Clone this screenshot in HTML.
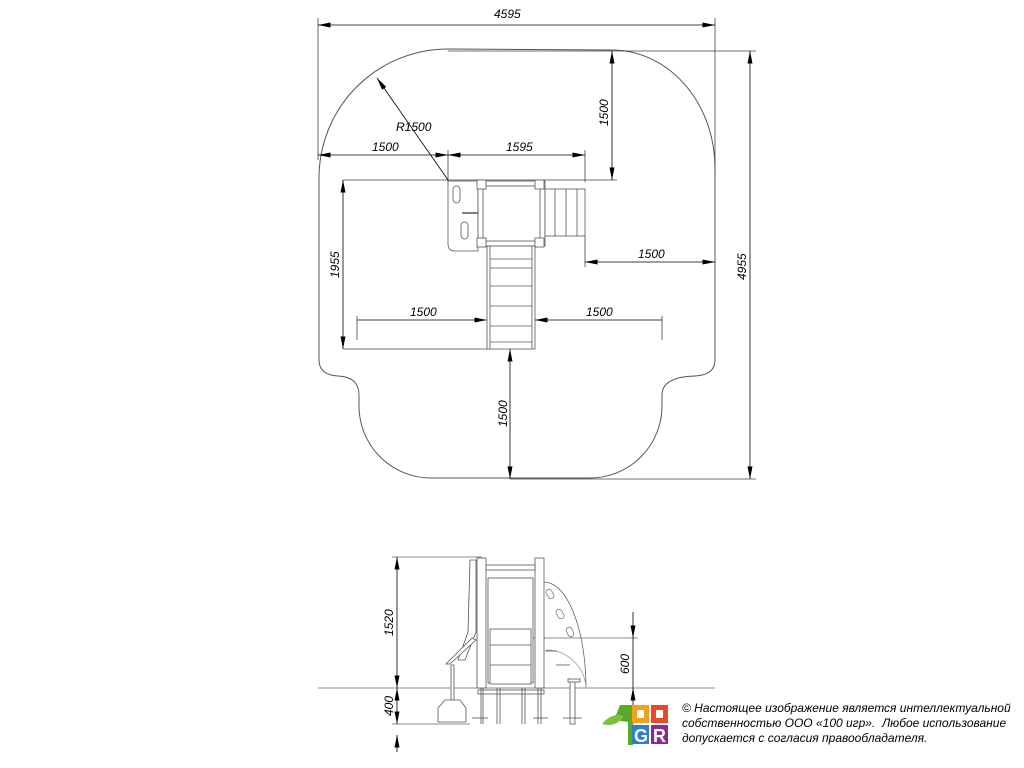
<!DOCTYPE html>
<html><head><meta charset="utf-8"><style>
html,body{margin:0;padding:0;background:#fff;}
svg{display:block}
.t{font-family:"Liberation Sans",sans-serif;font-style:italic;font-size:12px;fill:#000}
.n{font-family:"Liberation Sans","Noto Sans CJK SC",sans-serif;font-style:italic;font-size:12px;fill:#000;white-space:pre}
</style></head><body>
<svg width="1024" height="768" viewBox="0 0 1024 768" xmlns="http://www.w3.org/2000/svg">
<defs>
<marker id="a" viewBox="0 0 10 4" refX="10" refY="2" markerWidth="14" markerHeight="5" orient="auto-start-reverse" markerUnits="userSpaceOnUse"><path d="M0,0 L10,2 L0,4 Z" fill="#000"/></marker>
</defs>
<g fill="none" stroke="#555" stroke-width="1">
<path d="M319 178 A129 129 0 0 1 448 49 L612 50 A103 118 0 0 1 715 168 L715 360 Q715 375 695 376 Q662 377 662 395 L662 406 A72 72 0 0 1 590 478 L431 478 A72 72 0 0 1 359 406 L359 395 Q359 377 338 376 Q319 375 319 360 Z"/>
</g>
<g stroke="#444" stroke-width="0.8" fill="none">
<line x1="318" y1="18" x2="318" y2="160"/>
<line x1="715" y1="18" x2="715" y2="172"/>
<line x1="448" y1="51" x2="756" y2="51"/>
<line x1="510" y1="479" x2="756" y2="479"/>
<line x1="448" y1="150" x2="448" y2="182"/>
<line x1="585" y1="150" x2="585" y2="182"/>
<line x1="343" y1="180" x2="617" y2="180"/>
<line x1="343" y1="349" x2="487" y2="349"/>
<line x1="585" y1="236" x2="585" y2="267"/>
<line x1="662" y1="316" x2="662" y2="340"/>
<line x1="357" y1="316" x2="357" y2="340"/>
</g>
<g stroke="#000" stroke-width="0.8" fill="none" marker-start="url(#a)" marker-end="url(#a)">
<line x1="318" y1="25" x2="715" y2="25"/>
<line x1="750" y1="51" x2="750" y2="479"/>
<line x1="318" y1="155" x2="448" y2="155"/>
<line x1="448" y1="155" x2="585" y2="155"/>
<line x1="612" y1="51" x2="612" y2="180"/>
<line x1="343" y1="180" x2="343" y2="349"/>
<line x1="585" y1="262" x2="715" y2="262"/>
<line x1="510" y1="349" x2="510" y2="479"/>
</g>
<g stroke="#000" stroke-width="0.8" fill="none">
<line x1="357" y1="320" x2="487" y2="320" marker-end="url(#a)"/>
<line x1="662" y1="320" x2="535" y2="320" marker-end="url(#a)"/>
<line x1="448" y1="180" x2="377" y2="78" marker-end="url(#a)"/>
</g>
<text class="t" x="494" y="18">4595</text>
<text class="t" x="396" y="131">R1500</text>
<text class="t" x="372" y="151">1500</text>
<text class="t" x="506" y="151">1595</text>
<text class="t" x="638" y="258">1500</text>
<text class="t" x="410" y="316">1500</text>
<text class="t" x="586" y="316">1500</text>
<text class="t" transform="translate(608,126) rotate(-90)">1500</text>
<text class="t" transform="translate(339,278) rotate(-90)">1955</text>
<text class="t" transform="translate(746,280) rotate(-90)">4955</text>
<text class="t" transform="translate(507,427) rotate(-90)">1500</text>
<g stroke="#555" stroke-width="0.8" fill="#fff">
<path d="M448 181 L478 181 L478 251 L455 251 Q448 251 448 244 Z"/>
<rect x="453" y="186" width="7" height="17" rx="3.5"/>
<rect x="461" y="222" width="7" height="17" rx="3.5"/>
<rect x="478" y="181" width="67" height="65"/>
<rect x="483" y="186" width="57" height="55"/>
<rect x="545" y="189" width="40" height="47"/>
<line x1="555" y1="189" x2="555" y2="236"/><line x1="566" y1="189" x2="566" y2="236"/><line x1="577" y1="189" x2="577" y2="236"/>
<rect x="487" y="246" width="48" height="103"/>
<line x1="490" y1="259" x2="532" y2="259"/><line x1="490" y1="268" x2="532" y2="268"/>
<line x1="490" y1="286" x2="532" y2="286"/><line x1="490" y1="306" x2="532" y2="306"/><line x1="490" y1="326" x2="532" y2="326"/><line x1="490" y1="342" x2="532" y2="342"/>
<line x1="490" y1="246" x2="490" y2="349"/><line x1="532" y1="246" x2="532" y2="349"/>
<rect x="477" y="180" width="9" height="9"/><rect x="535" y="180" width="9" height="9"/>
<rect x="477" y="238" width="9" height="9"/><rect x="535" y="238" width="9" height="9"/>
<line x1="462" y1="213" x2="478" y2="213" stroke-width="1.5"/>
</g>
<g stroke="#666" stroke-width="0.8" fill="none">
<line x1="318" y1="688" x2="715" y2="688"/>
<line x1="392" y1="557" x2="482" y2="557"/>
<line x1="392" y1="724" x2="470" y2="724"/>
<line x1="490" y1="638" x2="638" y2="638"/>
<path d="M544 582 A42 106 0 0 1 586 688"/>
<path d="M546 650 A40 40 0 0 1 586 688" stroke="#999"/>
</g>
<g stroke="#000" stroke-width="0.8" fill="none" marker-start="url(#a)" marker-end="url(#a)">
<line x1="397" y1="557" x2="397" y2="688"/>
<line x1="397" y1="688" x2="397" y2="724"/>
</g>
<g stroke="#000" stroke-width="0.8" fill="none">
<line x1="633" y1="612" x2="633" y2="638" marker-end="url(#a)"/>
<line x1="633" y1="638" x2="633" y2="688"/>
<line x1="633" y1="724" x2="633" y2="688" marker-end="url(#a)"/>
</g>
<line x1="397" y1="735" x2="397" y2="752" stroke="#000" stroke-width="0.8" marker-start="url(#a)"/>
<text class="t" transform="translate(393,636) rotate(-90)">1520</text>
<text class="t" transform="translate(393,716) rotate(-90)">400</text>
<text class="t" transform="translate(629,674) rotate(-90)">600</text>
<g stroke="#555" stroke-width="0.8" fill="#fff">
<rect x="477" y="558" width="9" height="130"/>
<rect x="535" y="558" width="9" height="130"/>
<rect x="486" y="565" width="49" height="5"/>
<rect x="488" y="578" width="45" height="105"/>
<rect x="490" y="629" width="41" height="55"/>
<line x1="490" y1="645" x2="531" y2="645"/><line x1="490" y1="665" x2="531" y2="665"/>
<rect x="478" y="690" width="66" height="4"/>
<line x1="481" y1="688" x2="481" y2="724"/><line x1="483" y1="688" x2="483" y2="724"/>
<line x1="497" y1="688" x2="497" y2="724"/><line x1="500" y1="688" x2="500" y2="724"/>
<line x1="522" y1="688" x2="522" y2="724"/><line x1="525" y1="688" x2="525" y2="724"/>
<line x1="538" y1="688" x2="538" y2="724"/><line x1="541" y1="688" x2="541" y2="724"/>
<line x1="472" y1="718" x2="488" y2="718"/><line x1="533" y1="718" x2="548" y2="718"/>
<rect x="570" y="680" width="5" height="44"/>
<line x1="563" y1="718" x2="582" y2="718"/>
<rect x="568" y="679" width="12" height="3"/>
<line x1="556" y1="665" x2="570" y2="665"/>
<line x1="545" y1="651" x2="557" y2="651"/>
<path d="M470 560 L476 560 L476 632 L465 660 L458 660 L468 632 Z"/>
<path d="M476 640 L450 664 L446 664 L472 638 Z"/>
<rect x="451" y="665" width="3" height="40"/>
<path d="M445 700 L460 700 L466 708 L466 722 L438 722 L438 708 Z"/>
</g>
<g fill="#fff" stroke="#777" stroke-width="0.8">
<rect x="547" y="589" width="6" height="10" rx="3" transform="rotate(-30 550 594)"/>
<rect x="557" y="609" width="6" height="10" rx="3" transform="rotate(-30 560 614)"/>
<rect x="567" y="627" width="6" height="10" rx="3" transform="rotate(-25 570 632)"/>
</g>
<path d="M620 705 L614 720 L628 722 L628 745 L633 745 L633 705 Z" fill="#5aaa2a"/>
<path d="M602 724 Q612 712 624 716 Q616 728 602 724 Z" fill="#7cc242"/>
<rect x="632" y="705" width="17" height="18" fill="#f4a01c"/><rect x="637" y="710" width="7" height="8" fill="#fff"/>
<rect x="651" y="705" width="17" height="18" fill="#e84a27"/><rect x="656" y="710" width="7" height="8" fill="#fff"/>
<rect x="632" y="725" width="17" height="19" fill="#2d7fd0"/><text x="634" y="742" font-family="Liberation Sans" font-weight="bold" font-size="18" fill="#fff">G</text>
<rect x="651" y="725" width="17" height="19" fill="#8b2a8f"/><text x="653" y="742" font-family="Liberation Sans" font-weight="bold" font-size="18" fill="#fff">R</text>
<text class="n" x="682" y="712">© Настоящее изображение является интеллектуальной</text>
<text class="n" x="682" y="727">собственностью ООО «100 игр».  Любое использование</text>
<text class="n" x="682" y="742">допускается с согласия правообладателя.</text>
</svg>
</body></html>
